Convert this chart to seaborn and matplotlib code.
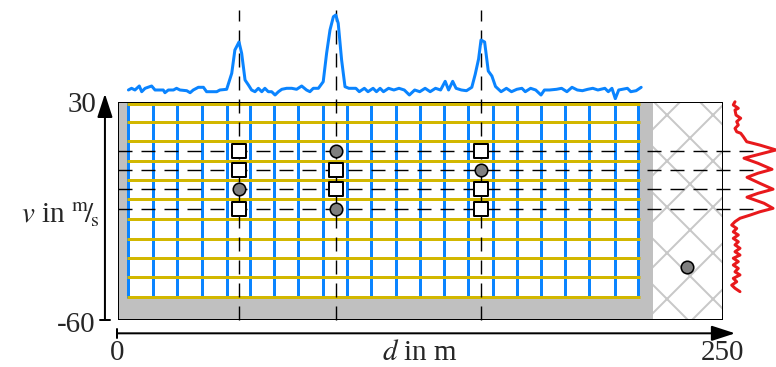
import matplotlib
matplotlib.use("Agg")
import matplotlib.pyplot as plt
from matplotlib.patches import Rectangle
import seaborn as sns

# ---- values ----
x_max = 250
y_min, y_max = -60, 30
grey_end = 221                       # grey band ends, hatched band starts
grid_left, grid_right = 3.6, 215.8   # white grid area
grid_bottom = -50.9

blue_x = [4.3, 14.3, 24.5, 34.6, 44.9, 54.5, 64.5, 74.4, 84.8, 94.5, 104.5,
          114.9, 124.8, 134.8, 144.7, 155.0, 165.0, 174.8, 184.7, 194.8, 205.2, 215.0]
yellow_y = [29.2, 21.7, 13.8, 5.8, -2.2, -10.2, -18.4, -26.4, -34.4, -42.3, -50.4]

cols_x = [50, 90, 150]
rows_y = [9.8, 1.9, -6.0, -14.2]
square_x = [50, 50, 50, 90, 90, 150, 150, 150]
square_y = [9.8, 1.9, -14.2, 1.9, -6.0, 9.8, -6.0, -14.2]
circle_x = [50, 90, 90, 150, 235]
circle_y = [-6.0, 9.8, -14.2, 1.9, -38.1]

# top profile (blue), amplitude in px above baseline
top_x = [4.3, 5.6, 7.0, 8.8, 9.8, 11.2, 13.9, 15.3, 18.7, 19.4, 20.8, 22.9, 24.2, 25.6,
         28.4, 29.8, 31.1, 33.2, 35.3, 36.6, 40.8, 42.1, 44.9, 47.0, 48.3, 50.0, 51.1,
         52.5, 53.9, 55.2, 56.6, 58.0, 59.4, 60.7, 62.1, 63.5, 64.9, 66.3, 67.7, 69.7,
         71.8, 73.8, 75.9, 77.9, 79.3, 80.7, 82.8, 84.8, 86.2, 87.6, 89.0, 90.0, 91.0,
         92.4, 93.8, 95.4, 98.3, 99.7, 101.8, 103.3, 105.4, 106.8, 108.3, 109.7, 111.8,
         114.0, 116.1, 118.3, 120.4, 122.6, 124.7, 126.9, 129.0, 131.2, 133.3, 135.2,
         136.6, 138.3, 139.7, 141.9, 144.0, 146.2, 147.6, 149.0, 150.0, 151.5, 153.0,
         154.5, 156.0, 158.3, 160.5, 162.6, 164.8, 166.9, 168.3, 170.5, 172.6, 174.8,
         176.2, 178.3, 181.2, 183.3, 185.5, 187.6, 189.8, 191.9, 194.1, 196.2, 198.3,
         201.2, 202.6, 204.1, 205.5, 206.9, 208.4, 210.5, 211.9, 214.1, 216.2]
top_amp = [0, 1.7, 0, 4, -1.7, 1.7, 4, 0, 0, -2.7, 0, 0, 1.7, 0,
           -0.7, -2.7, 0, 2.7, 2.7, -1.7, -1.7, 0, 0.7, 16.7, 40, 48, 36.7,
           10, 5, 0, -1.7, 1.7, -1.7, 1.7, -1.7, -1.7, -5, -1.7, 0.7, 1.7,
           1.7, 0.7, 4, 0, -1.7, 1.7, 1.7, 8.3, 36.7, 60, 73.3, 75, 66.7,
           30, 3.3, 1.7, 1.7, -1.7, 1.7, -1.7, 1.7, -1.7, 1.7, -1.7, 1.7,
           0, 1.7, 0, -5, 0, -1.7, 1.7, -1.7, 1.7, 0, 8.7,
           0, 8.7, 1.7, 0, -0.7, 2.7, 15.6, 31, 50, 48, 19,
           14, 3.5, -1.7, 1.7, -1.7, 0.7, 1.7, -1.7, 1.7, 0, -5,
           0, 0, 0.7, 1.7, -1.7, 2.7, 0, -0.7, 0.7, 1.7, 0,
           1.7, -1.7, 1.7, -8.7, 0, 0.7, 1.7, -1.7, -0.7, 2.7]

# side profile (red), amplitude in px right of the panel edge
side_y = [30.1, 28.8, 27.4, 26.7, 24.6, 23.3, 21.9, 20.5, 19.1, 17.7, 17.1, 15.7, 13.6,
          12.2, 10.2, 8.5, 6.8, 4.7, 2.2, 0.6, -1.1, -3.6, -6.0, -7.7, -9.3, -11.8,
          -13.9, -15.3, -16.7, -18.0, -19.4, -20.8, -22.2, -23.6, -24.9, -26.3, -27.7,
          -29.0, -30.4, -31.8, -33.2, -34.5, -35.9, -37.3, -38.7, -40.1, -41.4, -42.8,
          -44.2, -45.6, -46.9, -48.3]
side_amp = [15, 13.3, 18.3, 15, 16, 20.7, 16.7, 18.3, 15, 16.7, 20.7, 23.3, 26.7,
            40, 56, 40, 24, 38, 52, 38, 27, 40, 53, 38, 27, 44,
            53, 40, 30, 20, 15, 11.7, 16.7, 13.3, 18.3, 13.3, 18.3,
            15, 20, 15, 20, 13.3, 18.3, 13.3, 18.3, 15, 20, 13.3,
            16.7, 11.7, 15, 20]

# ---- style ----
DPI = 138
W, H = 776, 367
PX = 72 / DPI   # points per pixel
BLUE = "#0a84ff"
YELLOW = "#d2b700"
RED = "#e8191c"
GREY = "#c0c0c0"

sns.set_theme(style="white")
plt.rcParams["font.family"] = "Liberation Serif"
plt.rcParams["mathtext.fontset"] = "stix"
plt.rcParams["lines.scale_dashes"] = False
plt.rcParams["hatch.linewidth"] = 2 * PX
plt.rcParams["hatch.color"] = "#c8c8c8"
dash = (0, (14 * PX, 9 * PX))

fig = plt.figure(figsize=(W / DPI, H / DPI), dpi=DPI)
ax = fig.add_axes([118 / W, 47 / H, 605 / W, 218 / H])
ax_top = fig.add_axes([118 / W, (H - 100) / H, 605 / W, 100 / H])
ax_side = fig.add_axes([720 / W, 47 / H, 56 / W, 218 / H])

ax.set_xlim(0, x_max)
ax.set_ylim(y_min, y_max)
ax.axis("off")

# background regions
ax.add_patch(Rectangle((0, y_min), grey_end, y_max - y_min, facecolor=GREY, lw=0, zorder=0))
ax.add_patch(Rectangle((grid_left, grid_bottom), grid_right - grid_left, y_max - grid_bottom,
                       facecolor="white", lw=0, zorder=1))
ax.add_patch(Rectangle((grey_end, y_min), x_max - grey_end, y_max - y_min, facecolor="white",
                       edgecolor="#c8c8c8", hatch="x", lw=0, zorder=1))

# grid
for bx in blue_x:
    ax.plot([bx, bx], [grid_bottom, y_max], color=BLUE, lw=3 * PX, zorder=2, solid_capstyle="butt")
for yy in yellow_y:
    ax.plot([grid_left, grid_right], [yy, yy], color=YELLOW, lw=3 * PX, zorder=3,
            solid_capstyle="butt")

# dashed guide lines
dash_top = 68
dash_right = 266
for cx in cols_x:
    ax.plot([cx, cx], [y_min, dash_top], color="black", lw=1.4 * PX, ls=dash, zorder=4,
            clip_on=False)
for ry in rows_y:
    ax.plot([0, dash_right], [ry, ry], color="black", lw=1.4 * PX, ls=dash, zorder=4,
            clip_on=False)

# frame
ax.add_patch(Rectangle((0, y_min), x_max, y_max - y_min, fill=False, edgecolor="black",
                       lw=2 * PX, zorder=5))

# markers
sns.scatterplot(x=square_x, y=square_y, marker="s", s=(14 * PX) ** 2, color="white",
                edgecolor="black", linewidth=2 * PX, zorder=6, ax=ax, clip_on=False)
sns.scatterplot(x=circle_x, y=circle_y, marker="o", s=(12.5 * PX) ** 2, color="#7f7f7f",
                edgecolor="black", linewidth=1.6 * PX, zorder=6, ax=ax, clip_on=False)

# top profile
sns.lineplot(x=top_x, y=top_amp, sort=False, estimator=None, color=BLUE, lw=3 * PX,
             ax=ax_top)
ax_top.set_xlim(0, x_max)
ax_top.set_ylim(-10, 90)
ax_top.axis("off")
ax_top.patch.set_alpha(0)

# side profile
sns.lineplot(x=side_amp, y=side_y, sort=False, estimator=None, color=RED, lw=3 * PX,
             ax=ax_side)
for line in ax_side.lines:
    line.set_clip_on(False)
ax_side.set_xlim(0, 56)
ax_side.set_ylim(y_min, y_max)
ax_side.axis("off")
ax_side.patch.set_alpha(0)

# axis arrows
arrow = dict(arrowstyle=f"-|>,head_length={20 * PX / 10},head_width={6.5 * PX / 10}",
             mutation_scale=10, lw=2 * PX, color="black", shrinkA=0, shrinkB=0)
ax.annotate("", xy=(-5.4, 33.4), xytext=(-5.4, y_min), arrowprops=arrow, annotation_clip=False)
ax.annotate("", xy=(255, -65.5), xytext=(-0.3, -65.5), arrowprops=arrow, annotation_clip=False)
ax.plot([-7.4, -3.3], [y_min, y_min], color="black", lw=2 * PX, clip_on=False)
ax.plot([-0.3, -0.3], [-63.7, -67.3], color="black", lw=2 * PX, clip_on=False)

# labels
fs = 29 * PX
fig.text(96 / W, 1 - 112 / H, "30", fontsize=fs, ha="right", va="baseline")
fig.text(96 / W, 1 - 332 / H, "-60", fontsize=fs, ha="right", va="baseline")
fig.text(117 / W, 1 - 360 / H, "0", fontsize=fs, ha="center", va="baseline")
fig.text(723 / W, 1 - 360 / H, "250", fontsize=fs, ha="center", va="baseline")
fig.text(420 / W, 1 - 360 / H, r"$d$ in m", fontsize=fs, ha="center", va="baseline")
fig.text(60 / W, 1 - 223 / H, r"$v$ in ${}^{\mathrm{m}}\!/\!{}_{\mathrm{s}}$", fontsize=fs,
         ha="center", va="baseline")

fig.savefig("out.png", dpi=DPI)
